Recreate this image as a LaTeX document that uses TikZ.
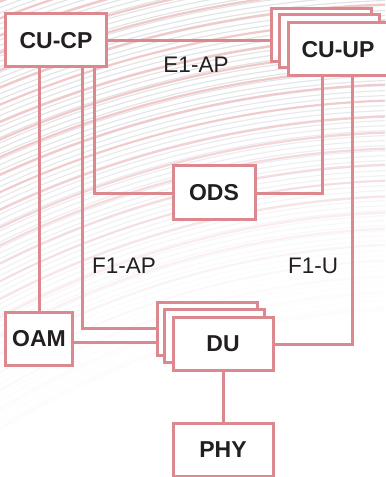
\documentclass[tikz,border=0pt]{standalone}
\usepackage{fontspec}
\setmainfont{Liberation Sans}
\definecolor{lnk}{RGB}{219,137,143}
\definecolor{txt}{RGB}{35,31,32}
\definecolor{bgp}{RGB}{242,200,203}
\definecolor{bgg}{RGB}{226,228,230}
\begin{document}
\begin{tikzpicture}[x=1bp,y=-1bp,
  box/.style={draw=lnk,line width=3bp,fill=white,inner sep=0pt,minimum height=53bp,text=txt,font=\fontsize{23bp}{27bp}\selectfont\bfseries},
  lbl/.style={text=txt,inner sep=0pt,font=\fontsize{22.5bp}{27bp}\selectfont},
  link/.style={draw=lnk,line width=3bp}]
\useasboundingbox (0,0) rectangle (385,477);
% background pattern
\begin{scope}
\clip (0,0) rectangle (385,477);
\foreach \r in {790,795,...,1190}{
  \pgfmathsetmacro{\op}{min(1,max(0.08,(\r-820)/220))}
  \draw[bgg,line width=1.2bp,opacity=\op] (420,1100) circle[radius=\r];
}
\foreach \r in {792,808,...,1190}{
  \pgfmathsetmacro{\op}{min(1,max(0.08,(\r-820)/200))}
  \draw[bgp,line width=2.2bp,opacity=\op] (420,1100) circle[radius=\r];
}
\end{scope}
% nodes
\node[box,minimum width=100bp] (cucp) at (56,40.5) {CU-CP};
\node[box,minimum width=100bp] (cuupB) at (321,35) {};
\node[box,minimum width=100bp] (cuupM) at (329,41.5) {};
\node[box,minimum width=100bp] (cuup) at (338,49.5) {CU-UP};
\node[box,minimum width=82bp] (ods) at (214,192.5) {ODS};
\node[box,minimum width=66bp] (oam) at (39,338.5) {OAM};
\node[box,minimum width=100bp] (duB) at (207,329) {};
\node[box,minimum width=100bp] (duM) at (214,335.5) {};
\node[box,minimum width=100bp] (du) at (223,343.5) {DU};
\node[box,minimum width=100bp] (phy) at (223,449.5) {PHY};
% coordinates
\coordinate (a1) at (82,328);
\coordinate (a2) at (94,193);
\coordinate (b1) at (322,193);
\coordinate (b2) at (352,344);
% connectors
\draw[link] (cucp.east |- 0,41) -- (cuupB.west |- 0,41);
\draw[link] (oam.north |- cucp.south) -- (oam.north);
\draw[link] (a1 |- cucp.south) -- (a1) -- (duB.west |- a1);
\draw[link] (a2 |- cucp.south) -- (a2) -- (ods.west |- a2);
\draw[link] (ods.east |- b1) -- (b1) -- (b1 |- cuup.south);
\draw[link] (b2 |- cuup.south) -- (b2) -- (du.east |- b2);
\draw[link] (oam.east |- 0,342) -- (duB.west |- 0,342);
\draw[link] (du.south) -- (phy.north);
% labels
\node[lbl] (e1) at (196,65) {E1-AP};
\node[lbl] (f1ap) at (124,266) {F1-AP};
\node[lbl] (f1u) at (313,266) {F1-U};
\end{tikzpicture}
\end{document}
